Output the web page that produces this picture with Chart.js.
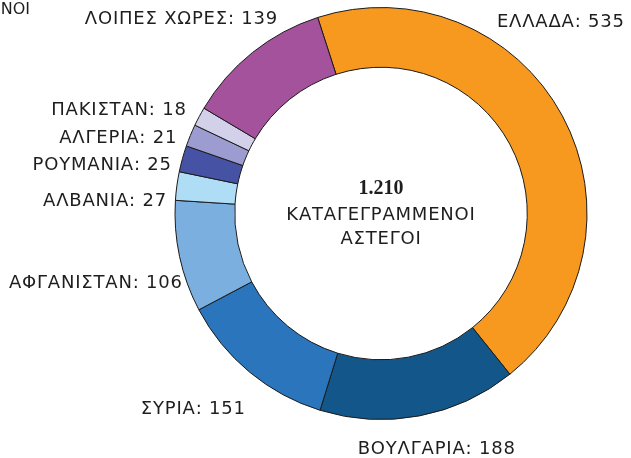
<!DOCTYPE html>
<html>
<head>
<meta charset="utf-8">
<script src="https://cdn.jsdelivr.net/npm/chart.js@4.4.1/dist/chart.umd.min.js"></script>
<style>
  body { margin: 0; background: #fff; }
  #homeless { display: block; }
</style>
</head>
<body>
<canvas id="homeless" width="631" height="458"></canvas>
<script>
const countries = ['ΕΛΛΑΔΑ', 'ΒΟΥΛΓΑΡΙΑ', 'ΣΥΡΙΑ', 'ΑΦΓΑΝΙΣΤΑΝ', 'ΑΛΒΑΝΙΑ', 'ΡΟΥΜΑΝΙΑ', 'ΑΛΓΕΡΙΑ', 'ΠΑΚΙΣΤΑΝ', 'ΛΟΙΠΕΣ ΧΩΡΕΣ'];
const counts = [535, 188, 151, 106, 27, 25, 21, 18, 139];
const totalLabel = '1.210';
const centerLines = ['ΚΑΤΑΓΕΓΡΑΜΜΕΝΟΙ', 'ΑΣΤΕΓΟΙ'];

const sliceColors = ['#F7991F', '#13578A', '#2B75BC', '#7BAFDF', '#AFDDF6', '#4653A4', '#9D9CD0', '#D3D0EA', '#A5529D'];
const labelFont = '18px "DejaVu Sans"';

// nudges (px) from the radial anchor, to sit labels where the original put them
const labelNudge = [[-76, -88], [15, 22], [4, 28], [15, 24], [2, 17], [1, 10], [-2, 7], [-2, -1], [33, -24]];

const sliceLabels = {
    id: 'sliceLabels',
    afterDatasetsDraw(chart) {
        const ctx = chart.ctx;
        const meta = chart.getDatasetMeta(0);
        ctx.save();
        ctx.font = labelFont;
        ctx.fillStyle = '#1e1e1e';
        ctx.textBaseline = 'middle';
        ctx.letterSpacing = '0.8px';
        meta.data.forEach((arc, i) => {
            const p = arc.getProps(['x', 'y', 'startAngle', 'endAngle', 'outerRadius'], true);
            const mid = (p.startAngle + p.endAngle) / 2;
            const r = p.outerRadius + 12;
            const c = Math.cos(mid);
            ctx.textAlign = Math.abs(c) < 0.3 ? 'center' : (c > 0 ? 'left' : 'right');
            const n = labelNudge[i];
            ctx.fillText(`${countries[i]}: ${counts[i]}`, p.x + c * r + n[0], p.y + Math.sin(mid) * r + n[1]);
        });

        // centre text
        const cx = meta.data[0].x, cy = meta.data[0].y;
        ctx.textAlign = 'center';
        ctx.letterSpacing = '0px';
        ctx.font = 'bold 20px "Liberation Serif"';
        ctx.fillText(totalLabel, cx, cy - 25);
        ctx.font = labelFont;
        ctx.letterSpacing = '0.8px';
        ctx.fillText(centerLines[0], cx, cy + 2);
        ctx.fillText(centerLines[1], cx, cy + 26);

        // clipped heading at the top-left corner
        ctx.letterSpacing = '0px';
        ctx.font = '16px "DejaVu Sans"';
        ctx.textAlign = 'right';
        ctx.fillText(centerLines[0], 30, 10);
        ctx.restore();
    }
};

new Chart(document.getElementById('homeless'), {
    type: 'doughnut',
    data: {
        labels: countries,
        datasets: [{
            data: counts,
            backgroundColor: sliceColors,
            borderColor: '#1a1a1a',
            borderWidth: 1
        }]
    },
    options: {
        responsive: false,
        animation: false,
        rotation: -17.9,
        cutout: '71%',
        layout: { padding: { top: 7, bottom: 38, left: 174, right: 43 } },
        plugins: {
            legend: { display: false },
            tooltip: { enabled: false }
        }
    },
    plugins: [sliceLabels]
});
</script>
</body>
</html>
